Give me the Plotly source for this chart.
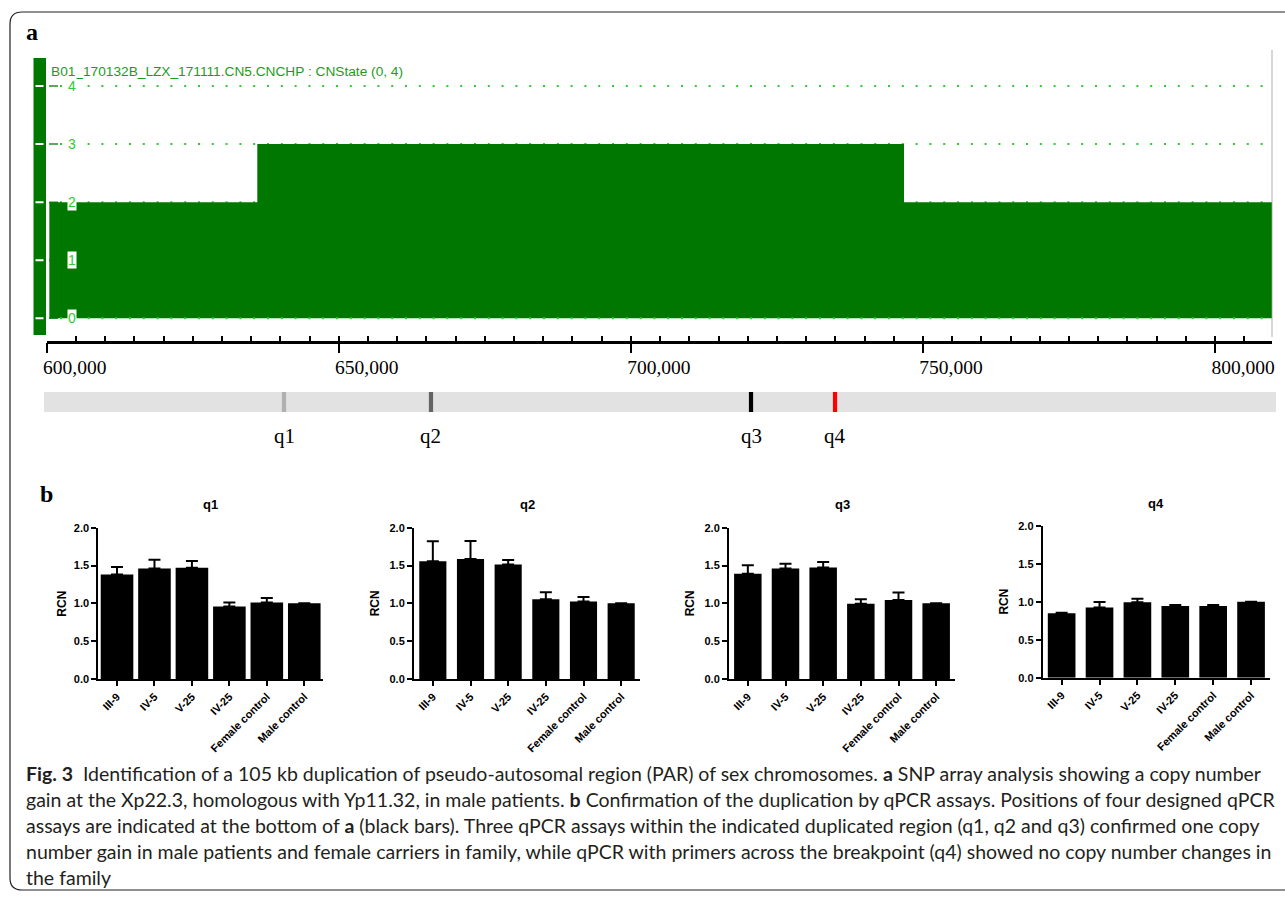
import plotly.graph_objects as go

W, H = 1285, 898

# ---------------- data ----------------
cn_seg_start = [600450, 636050, 746750]
cn_seg_end = [636050, 746750, 809700]
cn_state = [2, 3, 2]
cn_levels = [0, 1, 2, 3, 4]
genome_ticks = [600000, 650000, 700000, 750000, 800000]
cn_title = "B01_170132B_LZX_171111.CN5.CNCHP : CNState (0, 4)"

assay_names = ["q1", "q2", "q3", "q4"]
assay_pos = [640620, 665780, 720560, 734940]

samples = ["III-9", "IV-5", "V-25", "IV-25", "Female control", "Male control"]
q1_rcn = [1.38, 1.46, 1.47, 0.96, 1.01, 1.00]
q1_err = [0.10, 0.115, 0.09, 0.05, 0.06, 0.0]
q2_rcn = [1.555, 1.585, 1.515, 1.055, 1.025, 1.00]
q2_err = [0.265, 0.24, 0.058, 0.093, 0.058, 0.0]
q3_rcn = [1.39, 1.46, 1.475, 0.995, 1.045, 1.00]
q3_err = [0.113, 0.062, 0.07, 0.06, 0.097, 0.0]
q4_rcn = [0.85, 0.925, 0.995, 0.945, 0.945, 1.00]
q4_err = [0.005, 0.072, 0.045, 0.015, 0.012, 0.0]
rcn_ticks = [0.0, 0.5, 1.0, 1.5, 2.0]

caption_lines = [
    "<b>Fig. 3</b>\u00a0 Identification of a 105 kb duplication of pseudo-autosomal region (PAR) of sex chromosomes. <b>a</b> SNP array analysis showing a copy number",
    "gain at the Xp22.3, homologous with Yp11.32, in male patients. <b>b</b> Confirmation of the duplication by qPCR assays. Positions of four designed qPCR",
    "assays are indicated at the bottom of <b>a</b> (black bars). Three qPCR assays within the indicated duplicated region (q1, q2 and q3) confirmed one copy",
    "number gain in male patients and female carriers in family, while qPCR with primers across the breakpoint (q4) showed no copy number changes in",
    "the family",
]

# ---------------- styles ----------------
assay_colors = ["#b0b0b0", "#646464", "#000000", "#ff0000"]
FILL_GREEN = "#007800"
DOT_GREEN = "#2fcc2f"
TEXT_GREEN = "#1c9c1c"


def px(x):
    return x / W


def py(y):
    return 1 - y / H


X_LEFT, X_RIGHT = 46.7, 1272.0
PX_PER_50K = 292.1
x_max = 600000 + (X_RIGHT - X_LEFT) / PX_PER_50K * 50000
x_range = [600000, x_max]

fig = go.Figure()

# copy-number state fill
cx = cn_seg_start + [cn_seg_end[-1]]
cy = cn_state + [cn_state[-1]]
fig.add_trace(go.Scatter(x=cx, y=cy, mode="lines", line=dict(width=0, color=FILL_GREEN, shape="hv"),
                         fill="tozeroy", fillcolor=FILL_GREEN, hoverinfo="skip", showlegend=False,
                         xaxis="x", yaxis="y"))
# dummy for minor-tick overlay axis
fig.add_trace(go.Scatter(x=[x_range[0]], y=[-10], mode="markers", marker=dict(opacity=0),
                         showlegend=False, hoverinfo="skip", xaxis="x3", yaxis="y"))

# assay markers
fig.add_trace(go.Bar(x=assay_pos, y=[1] * len(assay_pos), width=720, marker=dict(color=assay_colors, line=dict(width=0)),
                     showlegend=False, hoverinfo="skip", xaxis="x2", yaxis="y2"))

# bar charts
bar_sets = [(q1_rcn, q1_err, 0.87), (q2_rcn, q2_err, 0.72), (q3_rcn, q3_err, 0.73), (q4_rcn, q4_err, 0.73)]
for i, (vals, errs, bw) in enumerate(bar_sets):
    n = i + 4
    fig.add_trace(go.Bar(
        x=samples, y=vals, width=bw, marker=dict(color="black", line=dict(width=0)),
        error_y=dict(type="data", array=errs, arrayminus=[0] * len(errs), symmetric=False,
                     color="black", thickness=2, width=6),
        showlegend=False, xaxis=f"x{n}", yaxis=f"y{n}"))

layout = dict(
    width=W, height=H, margin=dict(l=0, r=0, t=0, b=0, autoexpand=False),
    paper_bgcolor="white", plot_bgcolor="rgba(0,0,0,0)",
    showlegend=False,
    xaxis=dict(domain=[px(X_LEFT), px(X_RIGHT)], range=x_range, anchor="y", automargin=False,
               showline=True, linecolor="black", linewidth=2.5, ticks="outside", ticklen=10, tickwidth=2,
               tickcolor="black", tickvals=genome_ticks, tickformat=",d", ticklabelshift=28,
               ticklabelstandoff=-3,
               tickfont=dict(family="Liberation Serif", size=19.5, color="black"),
               showgrid=False, zeroline=False, fixedrange=True),
    xaxis3=dict(domain=[px(X_LEFT), px(X_RIGHT)], range=x_range, anchor="y", overlaying="x", automargin=False,
                ticks="inside", tick0=600000, dtick=5000, ticklen=5, tickwidth=2, tickcolor="black",
                showticklabels=False, showline=False, showgrid=False, zeroline=False, fixedrange=True),
    yaxis=dict(domain=[py(340.7), py(58)], range=[-0.386, 4.482], visible=False, fixedrange=True,
               automargin=False),
    xaxis2=dict(domain=[px(X_LEFT), px(X_RIGHT)], range=x_range, anchor="y2", visible=False, fixedrange=True,
                automargin=False),
    yaxis2=dict(domain=[py(412), py(392)], range=[0, 1], visible=False, fixedrange=True, automargin=False),
)

bar_geo = [(98.3, 323.0, 527.7, 679.0), (414.0, 640.0, 527.7, 679.0),
           (729.0, 955.0, 527.7, 679.0), (1042.7, 1270.0, 526.0, 677.7)]
bold11 = dict(family="Liberation Sans", size=11, color="black", weight="bold")
for i, (x0, x1, y0, y1) in enumerate(bar_geo):
    n = i + 4
    layout[f"xaxis{n}"] = dict(domain=[px(x0), px(x1)], anchor=f"y{n}", range=[-0.5, 5.5], automargin=False,
                               showline=True, linecolor="black", linewidth=2, ticks="outside",
                               ticklen=5, tickwidth=2, tickcolor="black", tickangle=-45,
                               tickfont=bold11, showgrid=False, zeroline=False, fixedrange=True)
    layout[f"yaxis{n}"] = dict(domain=[py(y1), py(y0)], anchor=f"x{n}", range=[0, 2], automargin=False,
                               tickvals=rcn_ticks, tickformat=".1f",
                               showline=True, linecolor="black", linewidth=2, ticks="outside",
                               ticklen=5, tickwidth=2, tickcolor="black",
                               tickfont=bold11, showgrid=False, zeroline=False, fixedrange=True)

fig.update_layout(**layout)

shapes = []
# outer rounded frame
r = 12
fx0, fy0, fx1, fy1 = 10, 12, 1300, 890
path = (f"M {px(fx0 + r)},{py(fy0)} L {px(fx1)},{py(fy0)} M {px(fx0 + r)},{py(fy0)} "
        f"Q {px(fx0)},{py(fy0)} {px(fx0)},{py(fy0 + r)} L {px(fx0)},{py(fy1 - r)} "
        f"Q {px(fx0)},{py(fy1)} {px(fx0 + r)},{py(fy1)} L {px(fx1)},{py(fy1)}")
shapes.append(dict(type="path", path=path, xref="paper", yref="paper",
                   line=dict(color="#222222", width=1.2), layer="above"))
# left green state bar
shapes.append(dict(type="rect", xref="paper", yref="paper", x0=px(33.5), x1=px(46), y0=py(335), y1=py(58),
                   fillcolor=FILL_GREEN, line=dict(width=0), layer="above"))
# right border line
shapes.append(dict(type="line", xref="paper", yref="paper", x0=px(1272), x1=px(1272), y0=py(337), y1=py(50),
                   line=dict(color="#c8c8c8", width=1.5), layer="below"))
for lv in cn_levels:
    # white tick dash on the state bar
    shapes.append(dict(type="line", xref="paper", yref="y", x0=px(35.5), x1=px(43.5), y0=lv, y1=lv,
                       line=dict(color="white", width=2), layer="above"))
    # dark short dash + dotted guide
    shapes.append(dict(type="line", xref="paper", yref="y", x0=px(49), x1=px(58), y0=lv, y1=lv,
                       line=dict(color="#2a8a2a", width=1.5), layer="below"))
    shapes.append(dict(type="line", xref="paper", yref="y", x0=px(60), x1=px(1266), y0=lv, y1=lv,
                       line=dict(color=DOT_GREEN, width=2, dash="2px,11.8px"),
                       layer="above" if lv == 0 else "below"))
# assay band
shapes.append(dict(type="rect", xref="paper", yref="paper", x0=px(44), x1=px(1276), y0=py(412), y1=py(392),
                   fillcolor="#e2e2e2", line=dict(width=0), layer="below"))

annotations = []
annotations.append(dict(text="<b>a</b>", x=px(24), y=py(32), xref="paper", yref="paper", xanchor="left",
                        yanchor="middle", showarrow=False,
                        font=dict(family="Liberation Serif", size=24, color="black")))
annotations.append(dict(text="<b>b</b>", x=px(38), y=py(494), xref="paper", yref="paper", xanchor="left",
                        yanchor="middle", showarrow=False,
                        font=dict(family="Liberation Serif", size=24, color="black")))
annotations.append(dict(text=cn_title, x=px(49), y=py(71), xref="paper", yref="paper", xanchor="left",
                        yanchor="middle", showarrow=False,
                        font=dict(family="Liberation Sans", size=13.7, color=TEXT_GREEN)))
for lv in cn_levels:
    annotations.append(dict(text=str(lv), x=px(72), y=lv, xref="paper", yref="y", xanchor="center",
                            yanchor="middle", showarrow=False, bgcolor="white", borderpad=0,
                            font=dict(family="Liberation Sans", size=14, color=DOT_GREEN)))
for name, pos in zip(assay_names, assay_pos):
    annotations.append(dict(text=name, x=pos, y=py(436), xref="x2", yref="paper", xanchor="center",
                            yanchor="middle", showarrow=False,
                            font=dict(family="Liberation Serif", size=21, color="black")))
for i, name in enumerate(assay_names):
    n = i + 4
    annotations.append(dict(text=f"<b>{name}</b>", x=0.5, y=1, xref=f"x{n} domain", yref=f"y{n} domain",
                            yshift=23, xanchor="center", yanchor="middle", showarrow=False,
                            font=dict(family="Liberation Sans", size=13, color="black")))
    annotations.append(dict(text="<b>RCN</b>", x=0, y=0.5, xref=f"x{n} domain", yref=f"y{n} domain",
                            xshift=-39 if i else -36, textangle=-90, xanchor="center", yanchor="middle",
                            showarrow=False, font=dict(family="Liberation Sans", size=12, color="black")))
for k, line in enumerate(caption_lines):
    annotations.append(dict(text=line, x=px(24), y=py(773 + 26 * k), xref="paper", yref="paper",
                            xanchor="left", yanchor="middle", showarrow=False,
                            font=dict(family="Lato", size=19.5, color="#231f20")))

fig.update_layout(shapes=shapes, annotations=annotations)

fig.write_html("out.html", config={"displayModeBar": False},
               post_script="document.body.style.margin='0';")
